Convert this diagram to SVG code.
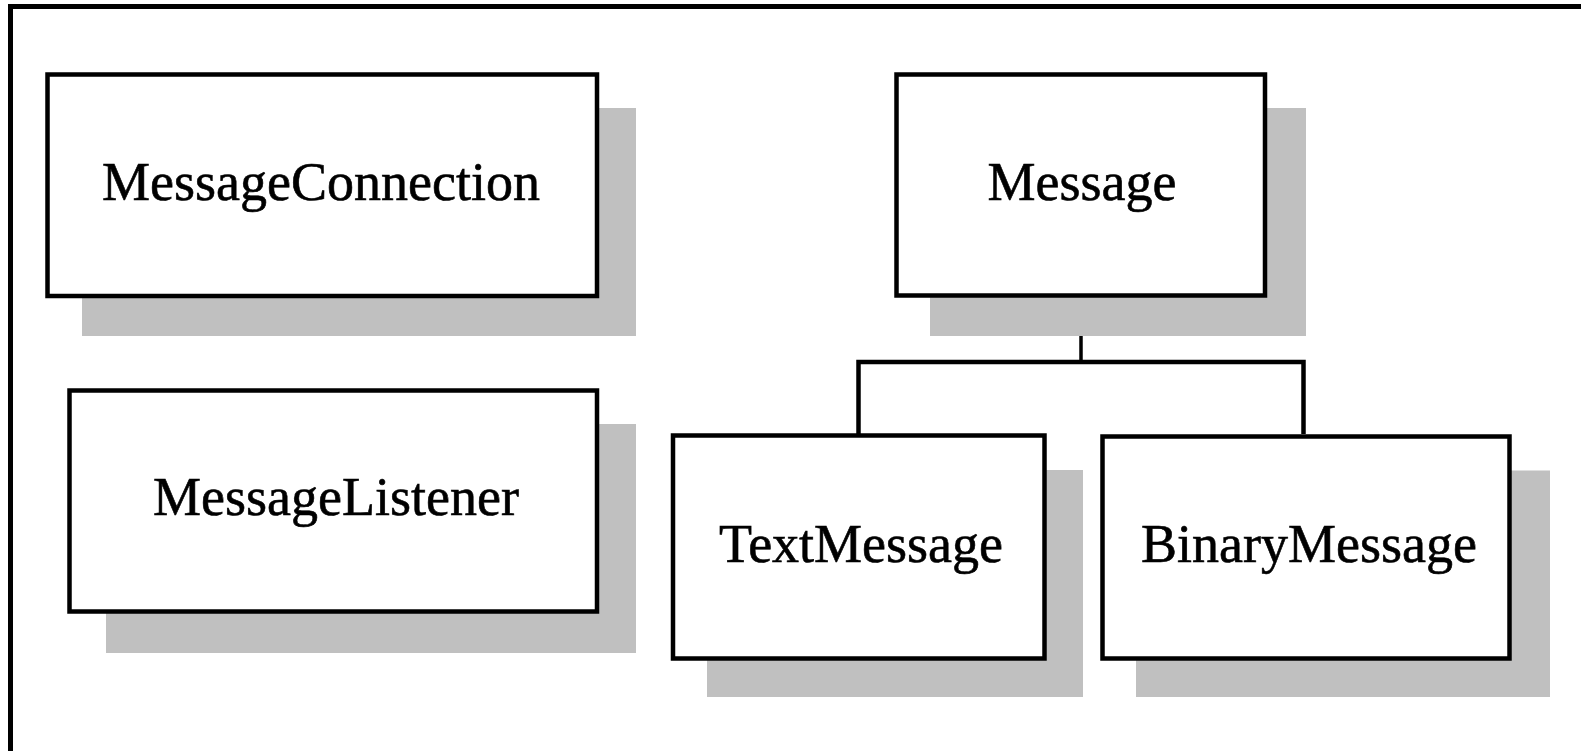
<svg xmlns="http://www.w3.org/2000/svg" width="1581" height="751" viewBox="0 0 1581 751">
<style>
.shadow{fill:#c0c0c0}
.box{fill:#fff;stroke:#000;stroke-width:4.5}
.lbl{font-family:"Liberation Serif","Times New Roman",serif;font-size:54px;fill:#000;stroke:#000;stroke-width:0.6;text-anchor:middle}
.conn{fill:none;stroke:#000;stroke-width:4.5}
</style>
<rect width="1581" height="751" fill="#fff"/>
<g id="frame">
<rect x="8" y="4" width="1573" height="5" fill="#000"/>
<rect x="8" y="4" width="5" height="747" fill="#000"/>
</g>
<g id="connectors">
<line class="conn" x1="1081" y1="297" x2="1081" y2="362" style="stroke-width:3.5"/>
<polyline class="conn" points="858.5,434 858.5,362 1303.5,362 1303.5,434"/>
</g>
<g id="MessageConnection">
<rect class="shadow" x="82" y="108" width="554" height="228"/>
<rect class="box" x="47.5" y="74.5" width="549.5" height="221.5"/>
<text class="lbl" x="321" y="200">MessageConnection</text>
</g>
<g id="MessageListener">
<rect class="shadow" x="106" y="424" width="530" height="229"/>
<rect class="box" x="69.5" y="390.5" width="527.5" height="221"/>
<text class="lbl" x="336" y="515">MessageListener</text>
</g>
<g id="Message">
<rect class="shadow" x="930" y="108" width="376" height="228"/>
<rect class="box" x="896.5" y="74.5" width="368.5" height="221"/>
<text class="lbl" x="1082" y="200">Message</text>
</g>
<g id="TextMessage">
<rect class="shadow" x="707" y="470" width="376" height="227"/>
<rect class="box" x="673" y="435.5" width="371.5" height="223"/>
<text class="lbl" x="861" y="562">TextMessage</text>
</g>
<g id="BinaryMessage">
<rect class="shadow" x="1136" y="470.5" width="414" height="226.5"/>
<rect class="box" x="1102.5" y="436.5" width="407" height="222"/>
<text class="lbl" x="1309" y="562">BinaryMessage</text>
</g>
</svg>
